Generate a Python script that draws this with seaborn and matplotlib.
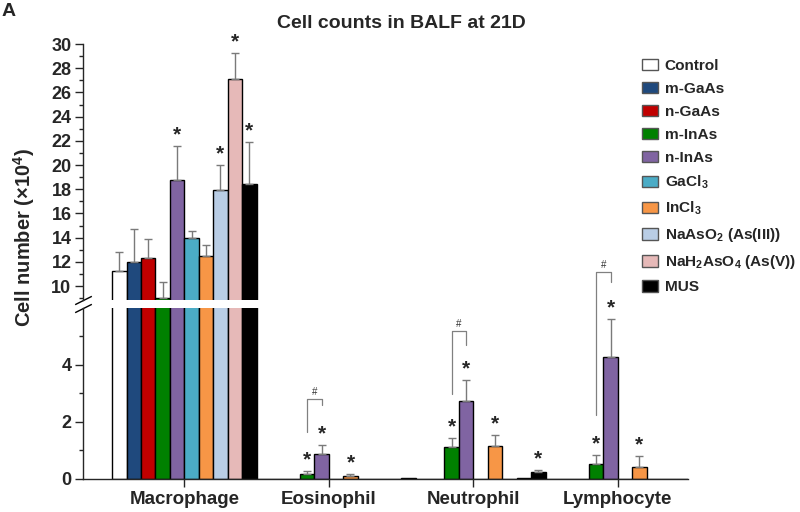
import numpy as np
import pandas as pd
import seaborn as sns
import matplotlib.pyplot as plt
from matplotlib.patches import Patch
from matplotlib.container import BarContainer

cells = ["Macrophage", "Eosinophil", "Neutrophil", "Lymphocyte"]
groups = ["Control", "m-GaAs", "n-GaAs", "m-InAs", "n-InAs", "GaCl3", "InCl3",
          "NaAsO2", "NaH2AsO4", "MUS"]
legend_labels = ["Control", "m-GaAs", "n-GaAs", "m-InAs", "n-InAs", "GaCl$_3$", "InCl$_3$",
                 "NaAsO$_2$ (As(III))", "NaH$_2$AsO$_4$ (As(V))", "MUS"]
colors = ["#ffffff", "#1f497d", "#c00000", "#008000", "#8064a2", "#4bacc6", "#f79646",
          "#b9cde5", "#e6b9b8", "#000000"]

# mean and SD (x10^4 cells), one value per group
macrophage = [11.27, 11.98, 12.29, 8.98, 18.74, 13.99, 12.50, 17.91, 27.08, 18.45]
macrophage_sd = [1.56, 2.71, 1.62, 1.38, 2.86, 0.58, 0.89, 2.11, 2.20, 3.43]
eosinophil = [0.0, 0.0, 0.0, 0.17, 0.88, 0.0, 0.10, 0.0, 0.0, 0.0]
eosinophil_sd = [0, 0, 0, 0.11, 0.30, 0, 0.06, 0, 0, 0]
neutrophil = [0.03, 0.0, 0.0, 1.11, 2.74, 0.0, 1.15, 0.0, 0.02, 0.23]
neutrophil_sd = [0, 0, 0, 0.32, 0.72, 0, 0.38, 0, 0, 0.07]
lymphocyte = [0.0, 0.0, 0.01, 0.52, 4.27, 0.0, 0.43, 0.0, 0.0, 0.0]
lymphocyte_sd = [0, 0, 0, 0.31, 1.33, 0, 0.37, 0, 0, 0]

# groups marked with * (vs control)
star_macrophage = ["n-InAs", "NaAsO2", "NaH2AsO4", "MUS"]
star_eosinophil = ["m-InAs", "n-InAs", "InCl3"]
star_neutrophil = ["m-InAs", "n-InAs", "InCl3", "MUS"]
star_lymphocyte = ["m-InAs", "n-InAs", "InCl3"]

# "#" brackets between m-InAs and n-InAs
bracket_cells = ["Eosinophil", "Neutrophil", "Lymphocyte"]
bracket_top = [2.81, 5.19, 7.27]
bracket_left_end = [1.66, 2.97, 2.25]
bracket_right_end = [2.60, 4.70, 6.90]

means = {"Macrophage": macrophage, "Eosinophil": eosinophil,
         "Neutrophil": neutrophil, "Lymphocyte": lymphocyte}
sds = {"Macrophage": macrophage_sd, "Eosinophil": eosinophil_sd,
       "Neutrophil": neutrophil_sd, "Lymphocyte": lymphocyte_sd}
stars = {"Macrophage": star_macrophage, "Eosinophil": star_eosinophil,
         "Neutrophil": star_neutrophil, "Lymphocyte": star_lymphocyte}

rows = []
for c in cells:
    for g, v in zip(groups, means[c]):
        rows.append([c, g, v])
df = pd.DataFrame(rows, columns=["cell", "group", "value"])

sns.set_style("ticks")
plt.rcParams["font.family"] = ["Liberation Sans", "DejaVu Sans"]
plt.rcParams["font.weight"] = "bold"
plt.rcParams["mathtext.fontset"] = "custom"
plt.rcParams["mathtext.rm"] = "Liberation Sans:bold"
plt.rcParams["mathtext.bf"] = "Liberation Sans:bold"
plt.rcParams["mathtext.default"] = "bf"

fig = plt.figure(figsize=(8, 5.12), dpi=100)
ax_top = fig.add_axes([0.104, 0.414, 0.756, 0.500])
ax_bot = fig.add_axes([0.104, 0.0645, 0.756, 0.334])

palette = dict(zip(groups, colors))
for ax in (ax_top, ax_bot):
    sns.barplot(data=df, x="cell", y="value", hue="group", order=cells, hue_order=groups,
                palette=palette, saturation=1, width=1.0, errorbar=None,
                edgecolor="black", linewidth=1, legend=False, ax=ax)

# bar centres from the drawn patches
centers = {}
for ax in (ax_top, ax_bot):
    bar_conts = [ct for ct in ax.containers if isinstance(ct, BarContainer)]
    for h, cont in enumerate(bar_conts):
        bars = sorted(cont.patches, key=lambda b: b.get_x())
        for ci, bar in enumerate(bars):
            c = cells[ci]
            g = groups[h]
            x = bar.get_x() + bar.get_width() / 2
            y = bar.get_height()
            centers[(c, g)] = x
            err = sds[c][h]
            if err > 0:
                ax.errorbar(x, y, yerr=[[0], [err]], fmt="none", ecolor="#7a7a7a",
                            elinewidth=1, capsize=3, capthick=1)

for c in cells:
    ax = ax_top if c == "Macrophage" else ax_bot
    for g in stars[c]:
        h = groups.index(g)
        top = means[c][h] + sds[c][h]
        ax.annotate("*", (centers[(c, g)], top), xytext=(0, 4), textcoords="offset points",
                    ha="center", va="baseline", fontsize=15, fontweight="bold",
                    annotation_clip=False)

for c, yt, yl, yr in zip(bracket_cells, bracket_top, bracket_left_end, bracket_right_end):
    xl = centers[(c, "m-InAs")]
    xr = centers[(c, "n-InAs")]
    ax_bot.plot([xl, xl, xr, xr], [yl, yt, yt, yr], color="#808080", lw=0.9, clip_on=False)
    ax_bot.annotate("#", ((xl + xr) / 2, yt), xytext=(0, 1.5), textcoords="offset points",
                    ha="center", va="bottom", fontsize=7, fontweight="normal",
                    color="#333333", annotation_clip=False)

# axes styling
for ax in (ax_top, ax_bot):
    ax.set_xlim(-0.70, 3.486)
    ax.set_xlabel("")
    ax.set_ylabel("")
    ax.spines["right"].set_visible(False)
    ax.spines["top"].set_visible(False)
    ax.spines["left"].set_linewidth(1)
    ax.tick_params(axis="y", which="major", direction="out", length=5.5, width=1,
                   labelsize=13, pad=3)
    ax.tick_params(axis="y", which="minor", direction="out", length=3, width=1)

ax_top.set_ylim(8.85, 30)
ax_top.set_yticks(np.arange(10, 31, 2))
ax_top.set_yticks(np.arange(9, 30, 2), minor=True)
ax_top.spines["bottom"].set_visible(False)
ax_top.set_xticks([])

ax_bot.set_ylim(0, 6)
ax_bot.set_yticks([0, 2, 4])
ax_bot.set_yticks([1, 3, 5], minor=True)
ax_bot.spines["bottom"].set_linewidth(1)
ax_bot.set_xticks(range(len(cells)))
ax_bot.set_xticklabels(cells, fontsize=13.5, fontweight="bold")
ax_bot.tick_params(axis="x", direction="out", length=6, width=1, pad=3)
for lab in ax_top.get_yticklabels() + ax_bot.get_yticklabels():
    lab.set_fontweight("bold")

# break marks on the y axis
mk = [(-1, -0.5), (1, 0.5)]
ax_top.plot([0], [0], transform=ax_top.transAxes, marker=mk, markersize=12,
            linestyle="none", color="k", mec="k", mew=1, clip_on=False)
ax_bot.plot([0], [1], transform=ax_bot.transAxes, marker=mk, markersize=12,
            linestyle="none", color="k", mec="k", mew=1, clip_on=False)

handles = [Patch(facecolor=col, edgecolor="#555555", linewidth=1) for col in colors]
fig.legend(handles, legend_labels, loc="upper left", bbox_to_anchor=(0.803, 0.885),
           frameon=False, borderpad=0, borderaxespad=0, handlelength=1.0,
           handleheight=0.75, handletextpad=0.45, labelspacing=0.58,
           prop={"size": 11.1, "weight": "bold"})

fig.text(0.502, 0.955, "Cell counts in BALF at 21D", ha="center", va="center",
         fontsize=14, fontweight="bold")
fig.text(0.002, 0.994, "A", ha="left", va="top", fontsize=14, fontweight="bold")
fig.text(0.03, 0.537, "Cell number (\u00d710$^{4}$)", rotation=90, ha="center",
         va="center", fontsize=14.5, fontweight="bold")

fig.savefig("out.png", dpi=100)
